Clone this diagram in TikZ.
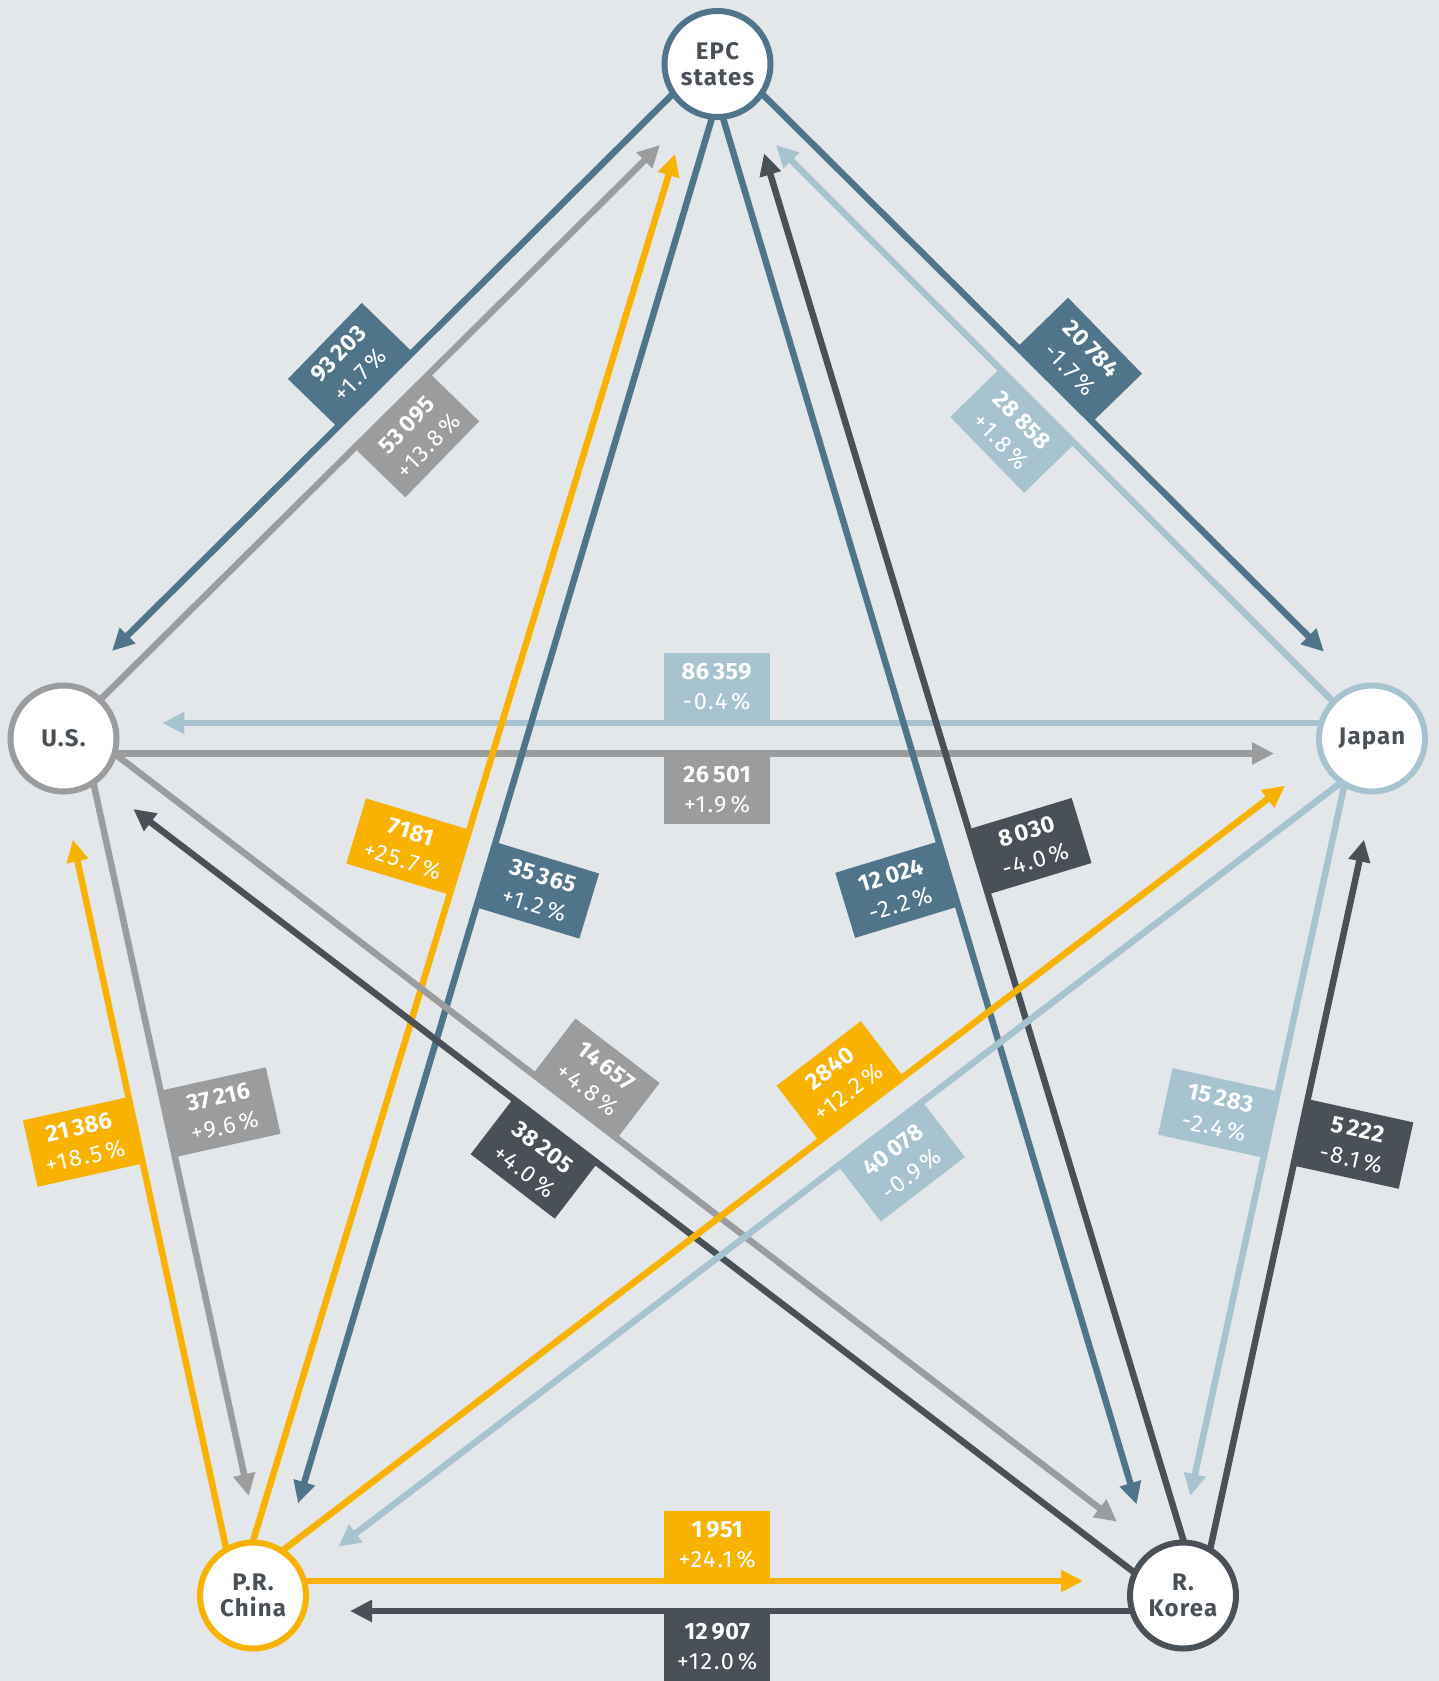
\documentclass[tikz,border=0pt]{standalone}
\usepackage{fontspec}
\setmainfont{Fira Sans}
\newfontfamily\nodefont[LetterSpace=5]{Fira Sans}
\newfontfamily\numfont[LetterSpace=2]{Fira Sans}
\newfontfamily\pctfont[LetterSpace=7]{Fira Sans}
\newcommand{\lbl}[2]{{\numfont\bfseries #1}\\{\pctfont #2}}
\usetikzlibrary{arrows.meta,calc}
\definecolor{bgc}{HTML}{E3E7EA}
\definecolor{cblue}{HTML}{50758B}
\definecolor{cgray}{HTML}{9B9C9E}
\definecolor{clight}{HTML}{A8C3D0}
\definecolor{corange}{HTML}{FAB200}
\definecolor{cdark}{HTML}{4A5057}
\pgfdeclarelayer{back}
\pgfdeclarelayer{lines}
\pgfsetlayers{back,lines,main}
\begin{document}
\begin{tikzpicture}[x=1pt,y=-1pt,
 place/.style={circle, draw=#1, line width=6pt, fill=white, minimum size=106pt, inner sep=0pt, align=center, text=cdark, font=\nodefont\bfseries\fontsize{24}{26}\selectfont},
 conn/.style={draw=#1, line width=6.5pt, -{Triangle[length=22pt,width=21pt]}, shorten <=-10pt},
 lab/.style={fill=#1, text=white, minimum width=106pt, minimum height=68pt, inner sep=0pt, outer sep=2pt, align=center, font=\fontsize{23.5}{30}\selectfont}]
\useasboundingbox (0,0) rectangle (1439,1681);
\begin{pgfonlayer}{back}
\fill[bgc] (0,0) rectangle (1439,1681);
\end{pgfonlayer}
% places
\node[place=cblue] (epc) at (717.5,64) {EPC\\states};
\node[place=cgray] (us) at (63.5,738.5) {U.S.};
\node[place=clight] (jp) at (1372,738.5) {Japan};
\node[place=corange] (cn) at (253,1595.5) {P.R.\\China};
\node[place=cdark] (kr) at (1183,1595.5) {R.\\Korea};
% endpoints
\coordinate (s1) at ($(epc)+(-45.8,31)$);
\coordinate (s4) at ($(epc)+(45.8,31)$);
\coordinate (s8) at ($(epc)+(-6.6,57.7)$);
\coordinate (s9) at ($(epc)+(6.6,57.7)$);
\coordinate (t2) at ($(epc)+(-57.5,81)$);
\coordinate (t3) at ($(epc)+(58.5,81)$);
\coordinate (t7) at ($(epc)+(-42.5,90)$);
\coordinate (t10) at ($(epc)+(46.5,89.3)$);
\coordinate (s2) at ($(us)+(38.2,-40.2)$);
\coordinate (s6) at ($(us)+(50,15)$);
\coordinate (s12) at ($(us)+(31.5,51.5)$);
\coordinate (s13) at ($(us)+(51.5,15.5)$);
\coordinate (t1) at ($(us)+(48.5,-87.5)$);
\coordinate (t5) at ($(us)+(98.8,-15.5)$);
\coordinate (t11) at ($(us)+(9.4,101.1)$);
\coordinate (t14) at ($(us)+(69.8,70.5)$);
\coordinate (s3) at ($(jp)+(-40,-38)$);
\coordinate (s5) at ($(jp)+(-50,-15.5)$);
\coordinate (s16) at ($(jp)+(-32,44.8)$);
\coordinate (s17) at ($(jp)+(-28.7,51.5)$);
\coordinate (t4) at ($(jp)+(-48,-86.8)$);
\coordinate (t6) at ($(jp)+(-98,15)$);
\coordinate (t15) at ($(jp)+(-87,47.2)$);
\coordinate (t18) at ($(jp)+(-8,101.1)$);
\coordinate (s7) at ($(cn)+(0.3,-55.5)$);
\coordinate (s11) at ($(cn)+(-28,-52.2)$);
\coordinate (s15) at ($(cn)+(30.3,-45.5)$);
\coordinate (s19) at ($(cn)+(50,-14.5)$);
\coordinate (t8) at ($(cn)+(45,-92.1)$);
\coordinate (t12) at ($(cn)+(-4.2,-99.6)$);
\coordinate (t16) at ($(cn)+(85.3,-48.8)$);
\coordinate (t20) at ($(cn)+(97,15.5)$);
\coordinate (s10) at ($(kr)+(0.3,-55.5)$);
\coordinate (s14) at ($(kr)+(-49.7,-23.8)$);
\coordinate (s18) at ($(kr)+(27.7,-48.8)$);
\coordinate (s20) at ($(kr)+(-50,15.5)$);
\coordinate (t9) at ($(kr)+(-46.4,-91.1)$);
\coordinate (t13) at ($(kr)+(-66,-73.9)$);
\coordinate (t17) at ($(kr)+(7.3,-99.6)$);
\coordinate (t19) at ($(kr)+(-100,-14.5)$);
\begin{pgfonlayer}{lines}
\draw[conn=cblue] (s1) -- (t1);
\draw[conn=cgray] (s2) -- (t2);
\draw[conn=clight] (s3) -- (t3);
\draw[conn=cblue] (s4) -- (t4);
\draw[conn=clight] (s5) -- (t5);
\draw[conn=cgray] (s6) -- (t6);
\draw[conn=corange] (s7) -- (t7);
\draw[conn=cblue] (s8) -- (t8);
\draw[conn=cblue] (s9) -- (t9);
\draw[conn=cdark] (s10) -- (t10);
\draw[conn=corange] (s11) -- (t11);
\draw[conn=cgray] (s12) -- (t12);
\draw[conn=cgray] (s13) -- (t13);
\draw[conn=cdark] (s14) -- (t14);
\draw[conn=corange] (s15) -- (t15);
\draw[conn=clight] (s16) -- (t16);
\draw[conn=clight] (s17) -- (t17);
\draw[conn=cdark] (s18) -- (t18);
\draw[conn=corange] (s19) -- (t19);
\draw[conn=cdark] (s20) -- (t20);
% labels
\path (s1) -- (t1) node[lab=cblue, pos=0.53, rotate=45.85, anchor=south] (l1) {\lbl{93\,203}{+1.7\,\%}};
\path (s2) -- (t2) node[lab=cgray, pos=0.52, rotate=45.85, anchor=north] (l2) {\lbl{53\,095}{+13.8\,\%}};
\path (s3) -- (t3) node[lab=clight, pos=0.53, rotate=-45.8, anchor=north] (l3) {\lbl{28\,858}{+1.8\,\%}};
\path (s4) -- (t4) node[lab=cblue, pos=0.52, rotate=-45.8, anchor=south] (l4) {\lbl{20\,784}{-1.7\,\%}};
\path (s5) -- (t5) node[lab=clight, pos=0.522, anchor=south] (l5) {\lbl{86\,359}{-0.4\,\%}};
\path (s6) -- (t6) node[lab=cgray, pos=0.520, anchor=north] (l6) {\lbl{26\,501}{+1.9\,\%}};
\path (s7) -- (t7) node[lab=corange, pos=0.489, rotate=-16.85, anchor=east] (l7) {\lbl{7181}{+25.7\,\%}};
\path (s8) -- (t8) node[lab=cblue, pos=0.545, rotate=-16.85, anchor=west] (l8) {\lbl{35\,365}{+1.2\,\%}};
\path (s9) -- (t9) node[lab=cblue, pos=0.544, rotate=16.92, anchor=east] (l9) {\lbl{12\,024}{-2.2\,\%}};
\path (s10) -- (t10) node[lab=cdark, pos=0.489, rotate=16.92, anchor=west] (l10) {\lbl{8\,030}{-4.0\,\%}};
\path (s11) -- (t11) node[lab=corange, pos=0.587, rotate=12.5, anchor=east] (l11) {\lbl{21\,386}{+18.5\,\%}};
\path (s12) -- (t12) node[lab=cgray, pos=0.473, rotate=12.5, anchor=west] (l12) {\lbl{37\,216}{+9.6\,\%}};
\path (s13) -- (t13) node[lab=cgray, pos=0.459, rotate=-37.45, anchor=south] (l13) {\lbl{14\,657}{+4.8\,\%}};
\path (s14) -- (t14) node[lab=cdark, pos=0.578, rotate=-37.45, anchor=north] (l14) {\lbl{38\,205}{+4.0\,\%}};
\path (s15) -- (t15) node[lab=corange, pos=0.577, rotate=37.48, anchor=south] (l15) {\lbl{2840}{+12.2\,\%}};
\path (s16) -- (t16) node[lab=clight, pos=0.459, rotate=37.48, anchor=north] (l16) {\lbl{40\,078}{-0.9\,\%}};
\path (s17) -- (t17) node[lab=clight, pos=0.474, rotate=-12.42, anchor=east] (l17) {\lbl{15\,283}{-2.4\,\%}};
\path (s18) -- (t18) node[lab=cdark, pos=0.586, rotate=-12.42, anchor=west] (l18) {\lbl{5\,222}{-8.1\,\%}};
\path (s19) -- (t19) node[lab=corange, pos=0.531, anchor=south] (l19) {\lbl{1\,951}{+24.1\,\%}};
\path (s20) -- (t20) node[lab=cdark, pos=0.531, anchor=north] (l20) {\lbl{12\,907}{+12.0\,\%}};
\end{pgfonlayer}
\end{tikzpicture}
\end{document}
